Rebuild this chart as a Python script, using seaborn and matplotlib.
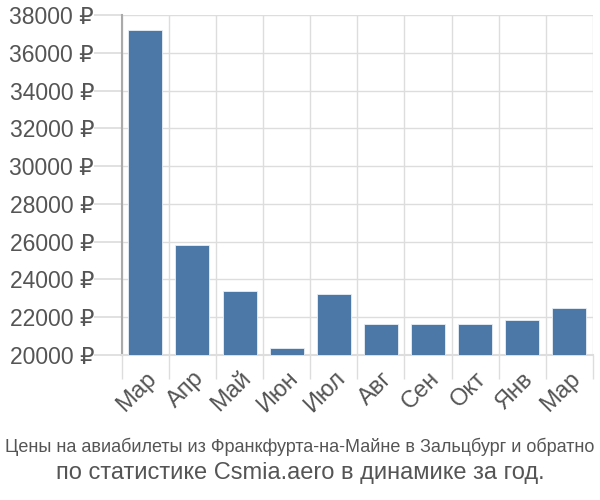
import matplotlib
matplotlib.use("Agg")
import matplotlib.pyplot as plt
import seaborn as sns
import pandas as pd
from matplotlib.ticker import FixedLocator, FuncFormatter

months = ["Мар", "Апр", "Май", "Июн", "Июл", "Авг", "Сен", "Окт", "Янв", "Мар"]
prices = [37200, 25800, 23400, 20350, 23230, 21650, 21650, 21650, 21850, 22470]
yticks = [20000, 22000, 24000, 26000, 28000, 30000, 32000, 34000, 36000, 38000]
title_line1 = "Цены на авиабилеты из Франкфурта-на-Майне в Зальцбург и обратно"
title_line2 = "по статистике Csmia.aero в динамике за год."

sns.set_theme(style="white")
plt.rcParams["font.family"] = ["Liberation Sans", "DejaVu Sans"]

df = pd.DataFrame({"idx": list(range(len(months))), "price": prices})

fig = plt.figure(figsize=(6, 5), dpi=100)
ax = fig.add_axes([0.203, 0.29, 0.785, 0.68])

sns.barplot(data=df, x="idx", y="price", color="#4c78a8", saturation=1,
            width=0.72, ax=ax, zorder=3, edgecolor="#e8eef5", linewidth=0.6)

ax.set_ylim(20000, 38000)
ax.set_xlim(-0.5, len(months) - 0.5)
ax.yaxis.set_major_locator(FixedLocator(yticks))
ax.yaxis.set_major_formatter(FuncFormatter(lambda v, p: f"{int(v)} ₽"))
ax.set_xticks([i for i in range(len(months))])
ax.set_xticklabels(months, rotation=45, ha="right", rotation_mode="anchor")
ax.xaxis.set_minor_locator(FixedLocator([i - 0.5 for i in range(len(months) + 1)]))

ax.set_xlabel("")
ax.set_ylabel("")
ax.grid(False)
ax.grid(axis="y", which="major", color="#dddddd", linewidth=1, zorder=0)
ax.grid(axis="x", which="minor", color="#dddddd", linewidth=1, zorder=0)

for s in ["top", "right"]:
    ax.spines[s].set_visible(False)
ax.spines["left"].set_color("#aaaaaa")
ax.spines["left"].set_linewidth(1.5)
ax.spines["bottom"].set_color("#dddddd")
ax.spines["bottom"].set_linewidth(1.5)

ax.tick_params(axis="y", which="major", length=20, color="#dddddd", labelsize=16.5,
               labelcolor="#555555", pad=0, left=True)
ax.tick_params(axis="x", which="major", length=0, labelsize=17,
               labelcolor="#555555", pad=9)
ax.tick_params(axis="x", which="minor", length=17, color="#dddddd", bottom=True)

fig.text(0.5, 0.107, title_line1, ha="center", va="center", fontsize=13,
         color="#555555")
fig.text(0.5, 0.055, title_line2, ha="center", va="center", fontsize=17,
         color="#555555")

fig.savefig("out.png", dpi=100)
